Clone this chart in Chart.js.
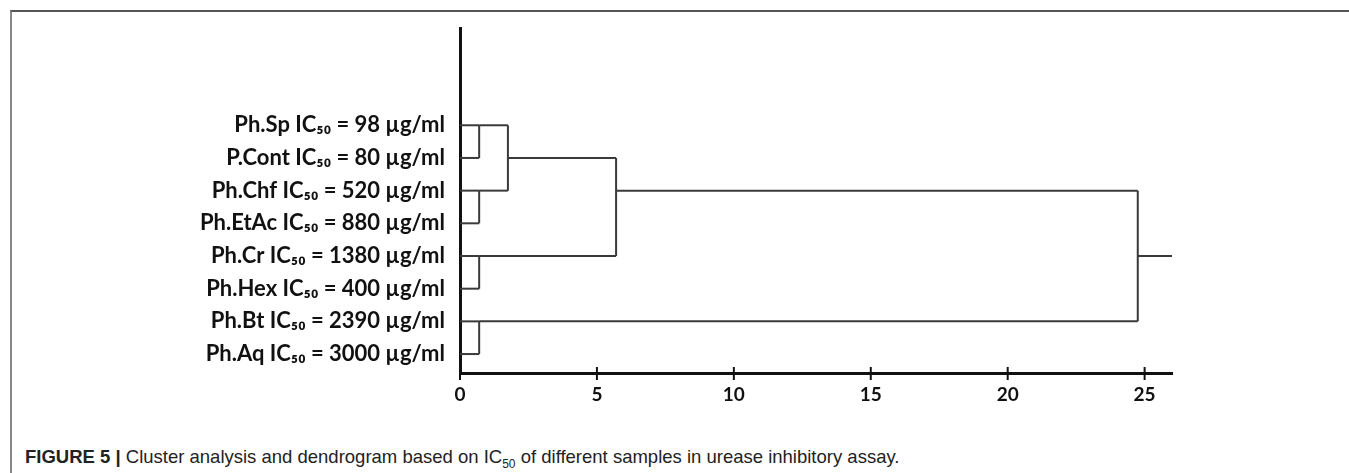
<!DOCTYPE html>
<html>
<head>
<meta charset="utf-8">
<script src="https://cdn.jsdelivr.net/npm/chart.js@4"></script>
<style>
  body { margin: 0; background: #fff; }
  #frame { position: absolute; left: 10px; top: 10px; width: 1400px; height: 500px;
           border-top: 2px solid #555; border-left: 2px solid #888; }
  #wrap { position: absolute; left: 0; top: 0; width: 1349px; height: 430px; }
  #caption { position: absolute; left: 25px; top: 447px; color: #222; white-space: nowrap; line-height: 19px;
             font-family: 'Liberation Sans', Arial, sans-serif; font-size: 18.5px; }
  #caption sub { font-size: 12px; line-height: 0; }
</style>
</head>
<body>
<div id="frame"></div>
<div id="wrap"><canvas id="dendro"></canvas></div>
<div id="caption"><b>FIGURE 5 |</b> Cluster analysis and dendrogram based on IC<sub>50</sub> of different samples in urease inhibitory assay.</div>
<script>
// leaves, top to bottom
const samples = [
  'Ph.Sp IC₅₀ = 98 µg/ml',
  'P.Cont IC₅₀ = 80 µg/ml',
  'Ph.Chf IC₅₀ = 520 µg/ml',
  'Ph.EtAc IC₅₀ = 880 µg/ml',
  'Ph.Cr IC₅₀ = 1380 µg/ml',
  'Ph.Hex IC₅₀ = 400 µg/ml',
  'Ph.Bt IC₅₀ = 2390 µg/ml',
  'Ph.Aq IC₅₀ = 3000 µg/ml'
];

// merge steps (row index of the upper / lower cluster, distance, row the joined cluster continues from)
const mergeUpper = [0, 2, 4, 6, 0, 1, 2];
const mergeLower = [1, 3, 5, 7, 2, 4, 6];
const mergeDistance = [0.7, 0.7, 0.7, 0.7, 1.75, 5.7, 24.75];
const mergeKeepRow = [0, 2, 4, 6, 1, 2, 4];
const rootTail = 26;

const xTicks = [0, 5, 10, 15, 20, 25];

// build the line segments from the merge table
const segments = [];
const startX = samples.map(() => 0);
mergeDistance.forEach((d, i) => {
  const a = mergeUpper[i], b = mergeLower[i];
  segments.push([{ x: startX[a], y: a }, { x: d, y: a }]);
  segments.push([{ x: startX[b], y: b }, { x: d, y: b }]);
  segments.push([{ x: d, y: a }, { x: d, y: b }]);
  startX[mergeKeepRow[i]] = d;
});
const lastRow = mergeKeepRow[mergeKeepRow.length - 1];
segments.push([{ x: startX[lastRow], y: lastRow }, { x: rootTail, y: lastRow }]);

const tickMarks = {
  id: 'tickMarks',
  afterDraw(chart) {
    const { ctx, scales: { x, y } } = chart;
    const y0 = y.bottom;
    ctx.save();
    ctx.strokeStyle = '#111';
    ctx.lineWidth = 2;
    xTicks.forEach(v => {
      const px = x.getPixelForValue(v);
      ctx.beginPath();
      ctx.moveTo(px, y0 - 6);
      ctx.lineTo(px, y0 + 7);
      ctx.stroke();
    });
    ctx.restore();
  }
};

new Chart(document.getElementById('dendro'), {
  type: 'scatter',
  data: {
    datasets: segments.map(seg => ({
      data: seg,
      showLine: true,
      borderColor: '#3a3a3a',
      borderWidth: 2,
      pointRadius: 0,
      clip: false
    }))
  },
  options: {
    responsive: true,
    maintainAspectRatio: false,
    animation: false,
    layout: { padding: { left: 0, right: 177, top: 25, bottom: 0 } },
    plugins: { legend: { display: false }, tooltip: { enabled: false } },
    scales: {
      x: {
        type: 'linear',
        min: 0,
        max: 26,
        afterBuildTicks: s => { s.ticks = xTicks.map(v => ({ value: v })); },
        afterFit: s => { s.height = 57; },
        grid: { display: false, drawTicks: false },
        border: { display: true, color: '#111', width: 3 },
        ticks: { color: '#111', padding: 10, font: { family: 'Lato', weight: 'bold', size: 19 } }
      },
      y: {
        type: 'linear',
        reverse: true,
        min: -2.97,
        max: 7.58,
        afterBuildTicks: s => { s.ticks = samples.map((_, i) => ({ value: i })); },
        afterFit: s => { s.width = 460; },
        grid: { display: false, drawTicks: false },
        border: { display: true, color: '#111', width: 3 },
        ticks: {
          color: '#111',
          padding: 15,
          font: { family: 'Lato', weight: 'bold', size: 22 },
          callback: (v, i) => samples[i]
        }
      }
    }
  },
  plugins: [tickMarks]
});
</script>
</body>
</html>
